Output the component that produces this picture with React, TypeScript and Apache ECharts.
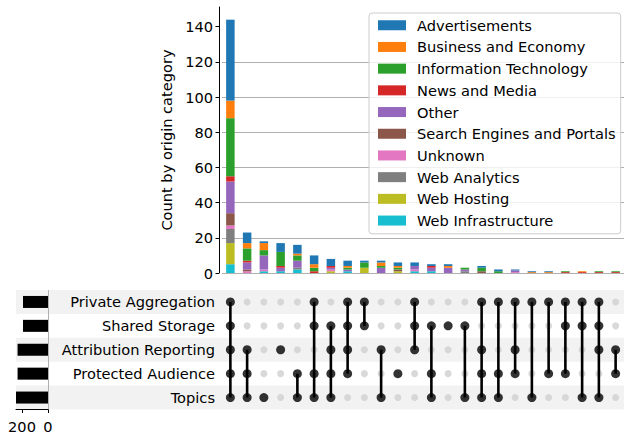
import React, { useEffect, useRef } from "react";
import * as echarts from "echarts";

// Legend order (top of legend first); stacked bottom-up in reverse order
const categories = [
  "Advertisements",
  "Business and Economy",
  "Information Technology",
  "News and Media",
  "Other",
  "Search Engines and Portals",
  "Unknown",
  "Web Analytics",
  "Web Hosting",
  "Web Infrastructure",
];
const colors = [
  "#1f77b4", "#ff7f0e", "#2ca02c", "#d62728", "#9467bd",
  "#8c564b", "#e377c2", "#7f7f7f", "#bcbd22", "#17becf",
];

// Counts per intersection column (24 columns), one array per origin category
const advertisements = [46, 6, 1, 5, 5, 5, 4, 3, 1, 1, 2, 2, 1, 1, 0, 1, 1, 0.5, 0.5, 0.5, 0, 0, 0, 0];
const businessEconomy = [10, 3, 4, 0, 1, 2, 0, 1, 0, 2, 1, 0, 0, 1, 0, 0, 0, 0, 0.5, 0.5, 0, 0.5, 0, 0];
const informationTechnology = [33, 7, 3, 8, 3, 2, 0, 1, 3, 1, 1, 0, 0, 0, 1, 2, 1, 0, 0, 0, 0.5, 0, 0.5, 0.5];
const newsMedia = [3, 1, 0, 1, 0, 1, 1, 0, 0, 0, 0, 0, 1, 0, 0, 0, 0, 0, 0, 0, 0.5, 0.5, 0.5, 0.5];
const other = [18, 4, 8, 2, 4, 0, 1, 1, 0, 3, 0, 2, 2, 3, 1, 0, 0, 1, 0, 0, 0, 0, 0, 0];
const searchEngines = [7, 1, 0, 0, 0, 0, 0, 0, 0, 0, 1, 0, 0, 0, 0, 1, 0, 0, 0, 0, 0, 0, 0, 0];
const unknown = [2, 1, 1, 0, 0, 0, 1, 0, 0, 0, 0, 1, 0, 0, 0, 0, 0, 0.5, 0, 0, 0, 0, 0, 0];
const webAnalytics = [8, 0, 0, 0, 1, 0, 0, 0, 0, 0, 0, 0, 0, 0, 1, 0, 0, 0, 0, 0, 0, 0, 0, 0];
const webHosting = [12, 0, 0, 0, 0, 0, 1, 0, 3, 0, 1, 0, 0, 0, 0, 0, 0, 0, 0, 0, 0, 0, 0, 0];
const webInfrastructure = [5, 0, 1, 1, 2, 0, 0, 1, 0, 0, 0, 1, 1, 0, 0, 0, 0, 0, 0, 0, 0, 0, 0, 0];
const categoryValues = [
  advertisements, businessEconomy, informationTechnology, newsMedia, other,
  searchEngines, unknown, webAnalytics, webHosting, webInfrastructure,
];

// Sets, top row first
const setNames = ["Private Aggregation", "Shared Storage", "Attribution Reporting", "Protected Audience", "Topics"];
const setSizes = [192, 192, 234, 234, 246];

// Membership of each intersection column (indices into setNames)
const intersections: number[][] = [
  [0, 1, 2, 3, 4],
  [2, 3, 4],
  [4],
  [2],
  [3, 4],
  [0, 1, 3, 4],
  [1, 2, 3, 4],
  [0, 1, 2, 3],
  [0, 1],
  [2, 4],
  [3],
  [0, 1, 2],
  [1, 3, 4],
  [1],
  [1, 4],
  [0, 2, 3, 4],
  [0, 3, 4],
  [0, 2, 3],
  [0, 4],
  [0, 3],
  [0, 1, 3],
  [0, 1, 4],
  [0, 1, 2, 4],
  [2, 3],
];

const yTicks = [0, 20, 40, 60, 80, 100, 120, 140];
const setTicks = [0, 200];

const FONT = "DejaVu Sans";
const FS = 14.6;

export default function App() {
  const ref = useRef<HTMLDivElement>(null);
  useEffect(() => {
    if (!ref.current) return;
    const chart = echarts.init(ref.current, undefined, { renderer: "svg" });
    const nSets = setNames.length;
    const rowsBottomUp = setNames.slice().reverse();
    const rowOf = (s: number) => nSets - 1 - s;
    const colLabels = intersections.map((_, i) => String(i));

    const blackDots: number[][] = [];
    const grayDots: number[][] = [];
    const links: number[][] = [];
    intersections.forEach((mem, i) => {
      for (let s = 0; s < nSets; s++) {
        if (mem.includes(s)) blackDots.push([i, rowOf(s)]);
        else grayDots.push([i, rowOf(s)]);
      }
      if (mem.length > 1) {
        const rows = mem.map(rowOf);
        links.push([i, Math.min(...rows), Math.max(...rows)]);
      }
    });

    const barSeries = categories
      .map((name, k) => ({
        type: "bar",
        name,
        xAxisIndex: 0,
        yAxisIndex: 0,
        stack: "origin",
        barWidth: 8.5,
        itemStyle: { color: colors[k] },
        data: categoryValues[k],
      }))
      .reverse();

    const top = 7, topH = 266;
    const mTop = 290, mH = 119.5;
    const pLeft = 222, pW = 409;

    const option: any = {
      animation: false,
      textStyle: { fontFamily: FONT },
      legend: {
        data: categories,
        orient: "vertical",
        left: 369,
        top: 13,
        icon: "rect",
        itemWidth: 28,
        itemHeight: 10,
        itemGap: 5.2,
        padding: [4, 5, 5, 9],
        backgroundColor: "rgba(255,255,255,0.8)",
        borderColor: "#cccccc",
        borderWidth: 1,
        borderRadius: 3,
        textStyle: { fontFamily: FONT, fontSize: FS, color: "#000", lineHeight: 16.5, padding: [0, 0, 0, 6] },
      },
      grid: [
        { left: pLeft, top, width: pW, height: topH },
        { left: 16, top: mTop, width: 615, height: mH },
        { left: 16, top: mTop, width: 32, height: mH },
        { left: pLeft, top: mTop, width: pW, height: mH },
      ],
      xAxis: [
        { gridIndex: 0, type: "category", data: colLabels, show: false },
        { gridIndex: 1, type: "value", min: 0, max: 1, show: false },
        {
          gridIndex: 2,
          type: "value",
          inverse: true,
          position: "bottom",
          min: 0,
          max: 246,
          interval: 200,
          axisLine: { show: true, lineStyle: { color: "#000", width: 1 } },
          axisTick: { show: true, length: 3.5, customValues: setTicks, lineStyle: { color: "#000" } },
          axisLabel: { fontFamily: FONT, fontSize: FS, color: "#000", margin: 9, customValues: setTicks },
          splitLine: { show: true, showMaxLine: false, lineStyle: { color: "#b0b0b0", width: 1 } },
        },
        { gridIndex: 3, type: "category", data: colLabels, show: false },
      ],
      yAxis: [
        {
          gridIndex: 0,
          type: "value",
          min: 0,
          max: 151.2,
          interval: 20,
          offset: 3,
          name: "Count by origin category",
          nameLocation: "middle",
          nameGap: 44,
          nameTextStyle: { fontFamily: FONT, fontSize: FS, color: "#000" },
          axisLine: { show: true, lineStyle: { color: "#000", width: 1 } },
          axisTick: { show: true, length: 3.5, customValues: yTicks, lineStyle: { color: "#000" } },
          axisLabel: { fontFamily: FONT, fontSize: FS, color: "#000", margin: 6, customValues: yTicks },
          splitLine: { show: true, showMaxLine: false, lineStyle: { color: "#b0b0b0", width: 1 } },
        },
        {
          gridIndex: 1,
          type: "category",
          data: rowsBottomUp,
          axisLine: { show: false },
          axisTick: { show: false },
          axisLabel: { show: false },
          splitLine: { show: false },
          splitArea: { show: true, areaStyle: { color: ["#f2f2f2", "rgba(255,255,255,0)"] } },
        },
        { gridIndex: 2, type: "category", data: rowsBottomUp, show: false },
        {
          gridIndex: 3,
          type: "category",
          data: rowsBottomUp,
          axisLine: { show: false },
          axisTick: { show: false },
          splitLine: { show: false },
          axisLabel: { fontFamily: FONT, fontSize: FS, color: "#000", margin: 7 },
        },
      ],
      series: [
        ...barSeries,
        {
          type: "bar",
          xAxisIndex: 2,
          yAxisIndex: 2,
          barWidth: 12,
          itemStyle: { color: "#000" },
          data: setSizes.slice().reverse(),
        },
        {
          type: "custom",
          xAxisIndex: 3,
          yAxisIndex: 3,
          z: 3,
          encode: { x: 0, y: [1, 2] },
          data: links,
          renderItem: (params: any, api: any) => {
            const x = api.value(0);
            const p1 = api.coord([x, api.value(1)]);
            const p2 = api.coord([x, api.value(2)]);
            return {
              type: "line",
              shape: { x1: p1[0], y1: p1[1], x2: p2[0], y2: p2[1] },
              style: { stroke: "#000", lineWidth: 2.6 },
            };
          },
        },
        {
          type: "scatter",
          xAxisIndex: 3,
          yAxisIndex: 3,
          symbolSize: 7,
          z: 2,
          itemStyle: { color: "#d0d0d0" },
          data: grayDots,
        },
        {
          type: "scatter",
          xAxisIndex: 3,
          yAxisIndex: 3,
          symbolSize: 9,
          z: 4,
          itemStyle: { color: "#000" },
          data: blackDots,
        },
      ],
    };
    chart.setOption(option);
    return () => chart.dispose();
  }, []);
  return (
    <div
      ref={ref}
      style={{ position: "absolute", left: 0, top: 0, width: 624, height: 438, background: "#fff" }}
    />
  );
}
